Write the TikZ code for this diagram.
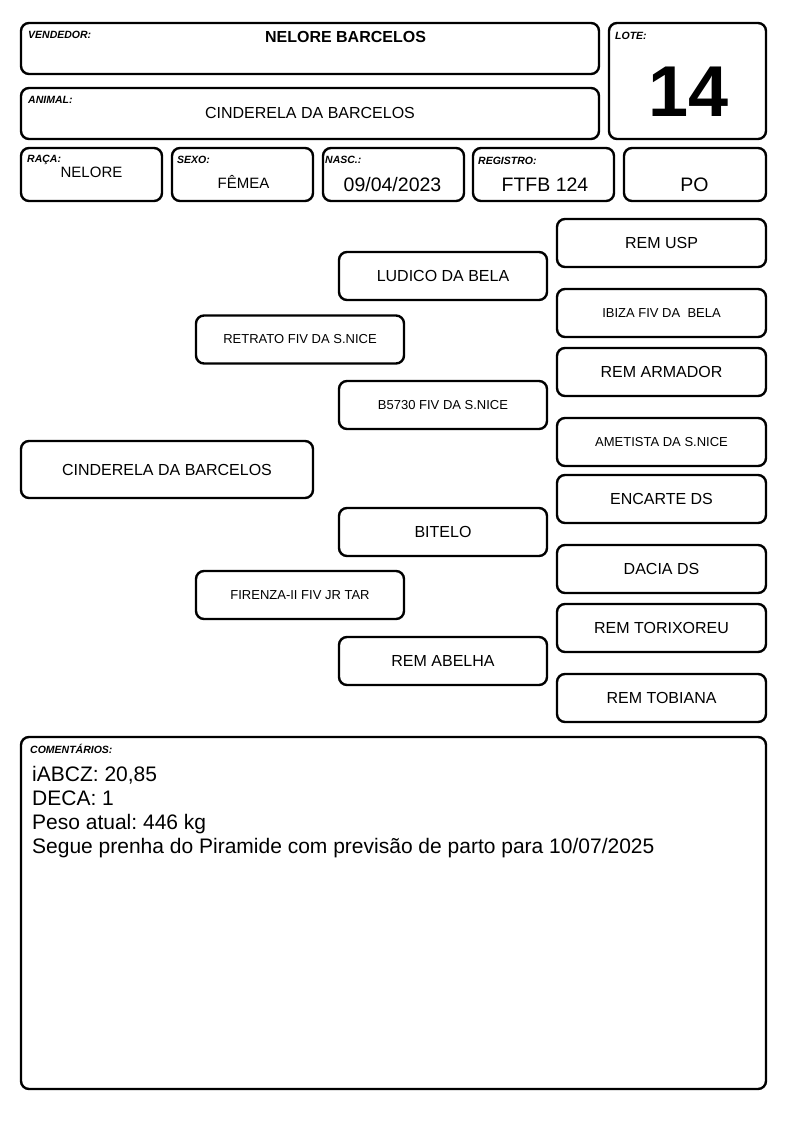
\documentclass[tikz,border=0pt]{standalone}
\usepackage{fontspec}
\setmainfont{Liberation Sans}
\usetikzlibrary{positioning,calc}
\frenchspacing

\begin{document}
\begin{tikzpicture}[
        x=1pt, y=-1pt,
        boxsty/.style={
            draw, line width=2.4pt, rounded corners=8pt, inner sep=0pt,
        },
        tagsty/.style={
            anchor=base west, inner sep=0pt,
            font=\fontsize{10.5}{12}\selectfont\bfseries\itshape,
        },
        valsty/.style={
            anchor=base, inner sep=0pt,
        },
        pedsty/.style={
            boxsty, minimum width=208pt, minimum height=48pt,
        },
        bigsty/.style={font=\fontsize{16}{19}\selectfont},
        smallsty/.style={font=\fontsize{13}{15}\selectfont},
        comsty/.style={anchor=base west, inner sep=0pt, font=\fontsize{21}{24}\selectfont},
    ]
    \useasboundingbox (0,0) rectangle (794,1123);

    % header boxes
    \node[boxsty, minimum width=578pt, minimum height=51pt] at (310,48.5) (vend) {};
    \node[boxsty, minimum width=578pt, minimum height=51pt] at (310,113.5) (anim) {};
    \node[boxsty, minimum width=157pt, minimum height=116pt] at (687.5,81) (lote) {};
    \node[boxsty, minimum width=141pt, minimum height=53pt] at (91.5,174.5) (raca) {};
    \node[boxsty, minimum width=141pt, minimum height=53pt] at (242.5,174.5) (sexo) {};
    \node[boxsty, minimum width=141pt, minimum height=53pt] at (393.5,174.5) (nasc) {};
    \node[boxsty, minimum width=141pt, minimum height=53pt] at (543.5,174.5) (reg) {};
    \node[boxsty, minimum width=142pt, minimum height=53pt] at (695,174.5) (po) {};

    \node[tagsty] at (28,38.5) (vendtag) {VENDEDOR:};
    \node[tagsty] at (28,103.5) (animtag) {ANIMAL:};
    \node[tagsty] at (615,39.5) (lotetag) {LOTE:};
    \node[tagsty] at (27,162.5) (racatag) {RAÇA:};
    \node[tagsty] at (177,163.5) (sexotag) {SEXO:};
    \node[tagsty] at (325,163.5) (nasctag) {NASC.:};
    \node[tagsty] at (478,164.5) (regtag) {REGISTRO:};

    \node[valsty, font=\fontsize{16}{19}\selectfont\bfseries] at (345.5,43) (vendval) {NELORE BARCELOS};
    \node[valsty, bigsty] at (310,119) (animval) {CINDERELA DA BARCELOS};
    \node[valsty, font=\fontsize{72}{80}\selectfont\bfseries] at (688.5,117) (loteval) {14};
    \node[valsty, font=\fontsize{15}{18}\selectfont] at (91.5,178) (racaval) {NELORE};
    \node[valsty, font=\fontsize{15}{18}\selectfont] at (243.5,189) (sexoval) {FÊMEA};
    \node[valsty, font=\fontsize{19.5}{22}\selectfont] at (392.5,192) (nascval) {09/04/2023};
    \node[valsty, font=\fontsize{19.5}{22}\selectfont] at (545,192) (regval) {FTFB 124};
    \node[valsty, font=\fontsize{19.5}{22}\selectfont] at (694.5,192) (poval) {PO};

    % pedigree
    \node[boxsty, minimum width=292pt, minimum height=57pt, bigsty] at (167,469.5) (animal) {CINDERELA DA BARCELOS};

    \node[pedsty, smallsty] at (300,339.5) (pai) {RETRATO FIV DA S.NICE};
    \node[pedsty, smallsty] at (300,595) (mae) {FIRENZA-II FIV JR TAR};

    \node[pedsty, bigsty] at (443,276) (avopp) {LUDICO DA BELA};
    \node[pedsty, smallsty] at (443,405) (avopm) {B5730 FIV DA S.NICE};
    \node[pedsty, bigsty] at (443,532) (avomp) {BITELO};
    \node[pedsty, bigsty] at (443,661) (avomm) {REM ABELHA};

    \node[pedsty, minimum width=209pt, bigsty] at (661.5,243) (bis1) {REM USP};
    \node[pedsty, minimum width=209pt, smallsty] at (661.5,313) (bis2) {IBIZA FIV DA\ \ BELA};
    \node[pedsty, minimum width=209pt, bigsty] at (661.5,372) (bis3) {REM ARMADOR};
    \node[pedsty, minimum width=209pt, smallsty] at (661.5,442) (bis4) {AMETISTA DA S.NICE};
    \node[pedsty, minimum width=209pt, bigsty] at (661.5,499) (bis5) {ENCARTE DS};
    \node[pedsty, minimum width=209pt, bigsty] at (661.5,569) (bis6) {DACIA DS};
    \node[pedsty, minimum width=209pt, bigsty] at (661.5,628) (bis7) {REM TORIXOREU};
    \node[pedsty, minimum width=209pt, bigsty] at (661.5,698) (bis8) {REM TOBIANA};

    % comments
    \node[boxsty, minimum width=745pt, minimum height=352pt] at (393.5,913) (coment) {};
    \node[tagsty] at (30,753) (comenttag) {COMENTÁRIOS:};
    \node[comsty] at (32,781) (c1) {iABCZ: 20,85};
    \node[comsty] at (32,805.3) (c2) {DECA: 1};
    \node[comsty] at (32,829.6) (c3) {Peso atual: 446 kg};
    \node[comsty] at (32,853.9) (c4) {Segue prenha do Piramide com previsão de parto para 10/07/2025};

\end{tikzpicture}
\end{document}
